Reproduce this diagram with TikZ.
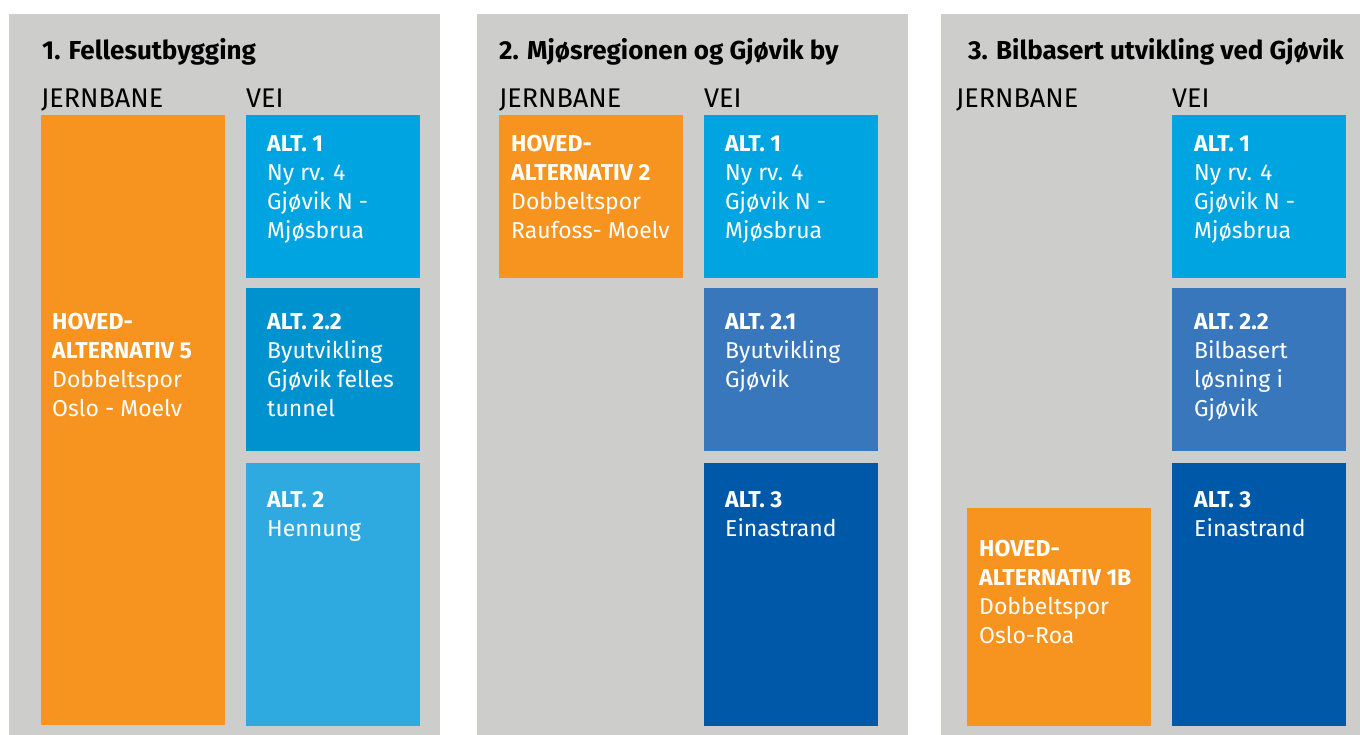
\documentclass[tikz,border=0pt]{standalone}
\usepackage{fontspec}
\setmainfont{Fira Sans}
\usetikzlibrary{positioning}
\definecolor{panelgray}{HTML}{CDCDCC}
\definecolor{hovedorange}{HTML}{F7941F}
\definecolor{altblue}{HTML}{00A4E1}
\definecolor{altmid}{HTML}{0092CF}
\definecolor{altlight}{HTML}{2EAAE1}
\definecolor{altsteel}{HTML}{3877BC}
\definecolor{altdark}{HTML}{0059A8}
\tikzset{box/.style={anchor=north west,inner sep=0,outer sep=0},
  boxtext/.style={anchor=north west,inner sep=0,align=left,text=white,font=\fontsize{23}{29}\selectfont},
  colhead/.style={anchor=base west,inner sep=0,font=\fontsize{27}{30}\selectfont},
  paneltitle/.style={anchor=base west,inner sep=0,font=\bfseries\fontsize{26}{30}\selectfont}}
% name, x, y, width, height, colour, text dx, text dy, text
\newcommand{\altbox}[9]{\node[box,fill=#6,minimum width=#4,minimum height=#5] (#1) at (#2,#3) {};
\node[boxtext] (#1t) at ([xshift=#7,yshift=-#8]#1.north west) {#9};}

\begin{document}
\begin{tikzpicture}[x=1pt,y=-1pt]
\useasboundingbox (0,0) rectangle (1360,735);
% panels
\fill[panelgray] (9,14) rectangle (440,735);
\fill[panelgray] (477,14) rectangle (908,735);
\fill[panelgray] (941,14) rectangle (1360,735);
% titles and column heads
\node[paneltitle] (t1) at (42,60) {1. Fellesutbygging};
\node[paneltitle] (t2) at (499,60) {2. Mjøsregionen og Gjøvik by};
\node[paneltitle] (t3) at (968,60) {3. Bilbasert utvikling ved Gjøvik};
\node[colhead] (j1) at (41,108) {JERNBANE};\node[colhead] (v1) at (246,108) {VEI};
\node[colhead] (j2) at (499,108) {JERNBANE};\node[colhead] (v2) at (704,108) {VEI};
\node[colhead] (j3) at (956,108) {JERNBANE};\node[colhead] (v3) at (1172,108) {VEI};
% 1. Fellesutbygging
\altbox{p1j}{41}{115}{184}{610}{hovedorange}{11}{198}{\textbf{HOVED-}\\\textbf{ALTERNATIV 5}\\Dobbeltspor\\Oslo - Moelv}
\altbox{p1a}{246}{115}{174}{163}{altblue}{21}{20}{\textbf{ALT. 1}\\Ny rv. 4\\Gjøvik N -\\Mjøsbrua}
\altbox{p1b}{246}{288}{174}{163}{altmid}{21}{25}{\textbf{ALT. 2.2}\\Byutvikling\\Gjøvik felles\\tunnel}
\altbox{p1c}{246}{463}{174}{263}{altlight}{21}{28}{\textbf{ALT. 2}\\Hennung}
% 2. Mjosregionen og Gjovik by
\altbox{p2j}{499}{115}{184}{163}{hovedorange}{12}{20}{\textbf{HOVED-}\\\textbf{ALTERNATIV 2}\\Dobbeltspor\\Raufoss- Moelv}
\altbox{p2a}{704}{115}{174}{163}{altblue}{21}{20}{\textbf{ALT. 1}\\Ny rv. 4\\Gjøvik N -\\Mjøsbrua}
\altbox{p2b}{704}{288}{174}{163}{altsteel}{21}{25}{\textbf{ALT. 2.1}\\Byutvikling\\Gjøvik}
\altbox{p2c}{704}{463}{174}{263}{altdark}{21}{28}{\textbf{ALT. 3}\\Einastrand}
% 3. Bilbasert utvikling ved Gjovik
\altbox{p3j}{967}{508}{184}{218}{hovedorange}{12}{32}{\textbf{HOVED-}\\\textbf{ALTERNATIV 1B}\\Dobbeltspor\\Oslo-Roa}
\altbox{p3a}{1172}{115}{174}{163}{altblue}{22}{20}{\textbf{ALT. 1}\\Ny rv. 4\\Gjøvik N -\\Mjøsbrua}
\altbox{p3b}{1172}{288}{174}{163}{altsteel}{22}{25}{\textbf{ALT. 2.2}\\Bilbasert\\løsning i\\Gjøvik}
\altbox{p3c}{1172}{463}{174}{263}{altdark}{22}{28}{\textbf{ALT. 3}\\Einastrand}
\end{tikzpicture}
\end{document}
